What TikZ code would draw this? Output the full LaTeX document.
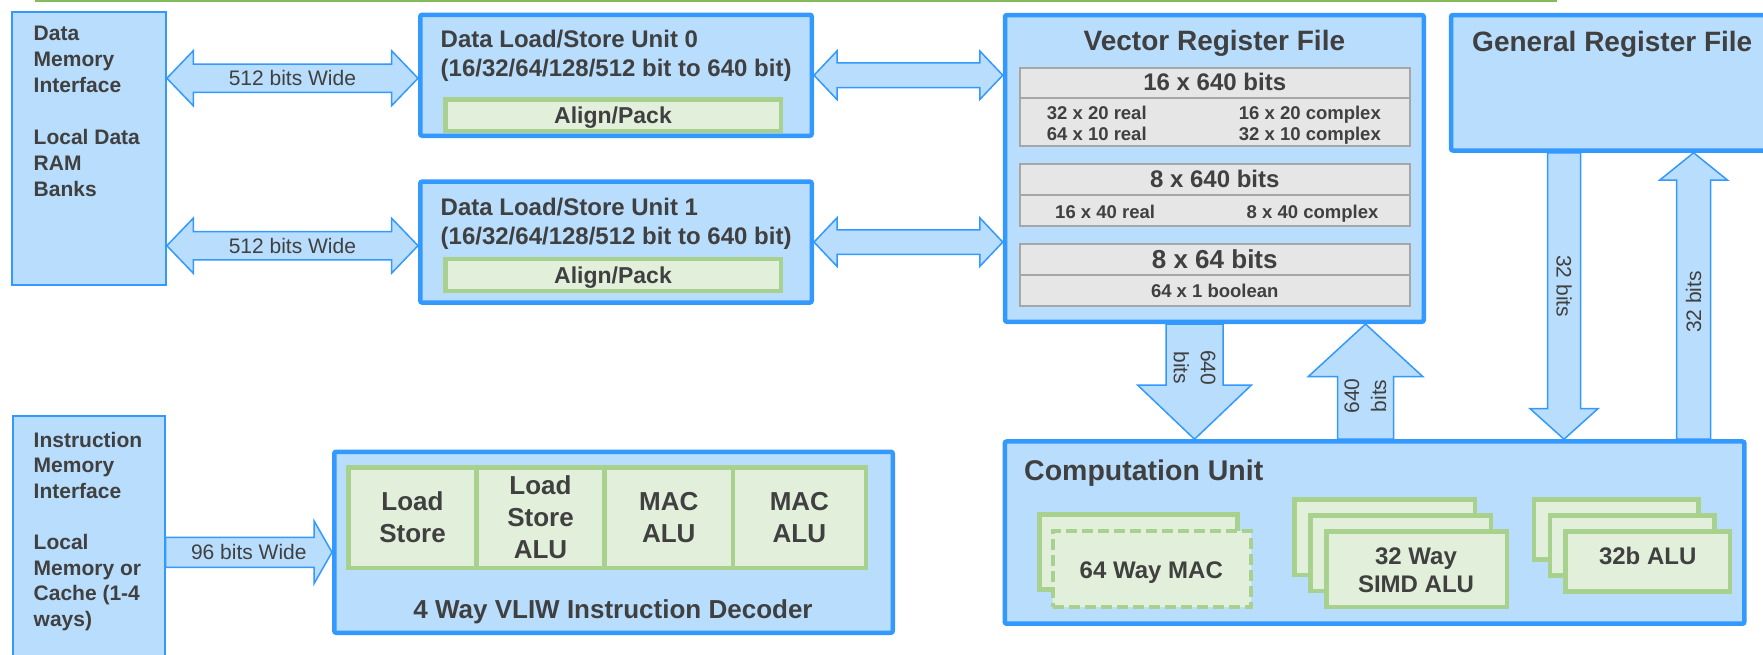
\documentclass[tikz,border=0pt]{standalone}
\usepackage{fontspec}
\setmainfont{Liberation Sans}
\usetikzlibrary{calc}
\definecolor{blueFill}{HTML}{B9DDFC}
\definecolor{blueLine}{HTML}{3399FF}
\definecolor{greenLine}{HTML}{A9D18E}
\definecolor{greenFill}{HTML}{E2EFDA}
\definecolor{grayFill}{HTML}{E6E6E6}
\definecolor{grayLine}{HTML}{A6A6A6}
\definecolor{textC}{HTML}{404040}
\definecolor{topGreen}{HTML}{84BC5B}
\newcommand{\myfs}[2]{\fontsize{#1}{#2}\selectfont}
\pgfdeclarelayer{backlayer}
\pgfdeclarelayer{arrowlayer}
\pgfsetlayers{backlayer,arrowlayer,main}
% double-headed horizontal block arrow: left, right, shaft half, head half, head length
\newcommand{\blkHH}[5]{%
  \filldraw[blk] (#1) -- ($(#1)+(#5,-#4)$) -- ($(#1)+(#5,-#3)$) -- ($(#2)+(-#5,-#3)$) -- ($(#2)+(-#5,-#4)$) -- (#2) -- ($(#2)+(-#5,#4)$) -- ($(#2)+(-#5,#3)$) -- ($(#1)+(#5,#3)$) -- ($(#1)+(#5,#4)$) -- cycle;}
% single right block arrow: tail, tip, shaft half, head half, head length
\newcommand{\blkR}[5]{%
  \filldraw[blk] ($(#1)+(0,-#3)$) -- ($(#2)+(-#5,-#3)$) -- ($(#2)+(-#5,-#4)$) -- (#2) -- ($(#2)+(-#5,#4)$) -- ($(#2)+(-#5,#3)$) -- ($(#1)+(0,#3)$) -- cycle;}
% vertical block arrow: tail, tip, shaft half, head half, head base offset from tip
\newcommand{\blkV}[5]{%
  \filldraw[blk] ($(#1)+(-#3,0)$) -- ($(#2)+(-#3,#5)$) -- ($(#2)+(-#4,#5)$) -- (#2) -- ($(#2)+(#4,#5)$) -- ($(#2)+(#3,#5)$) -- ($(#1)+(#3,0)$) -- cycle;}
\begin{document}
\begin{tikzpicture}[x=1pt,y=-1pt,
  thickbox/.style={draw=blueLine, line width=4.5pt, fill=blueFill, rounded corners=2pt, inner sep=0pt},
  thinbox/.style={draw=blueLine, line width=2pt, fill=blueFill, inner sep=0pt},
  greenbox/.style={draw=greenLine, line width=4.5pt, fill=greenFill, inner sep=0pt, text=textC},
  dashgreen/.style={greenbox, line width=4pt, dash pattern=on 11pt off 5pt},
  graybox/.style={draw=grayLine, line width=2pt, fill=grayFill, inner sep=0pt},
  blk/.style={draw=blueLine, line width=1.5pt, fill=blueFill, line join=miter},
  lbl/.style={text=textC, inner sep=0pt},
]
\path[use as bounding box] (0,0) rectangle (1763,654);
\begin{pgfonlayer}{backlayer}
  \fill[white] (0,0) rectangle (1763,654);
\end{pgfonlayer}
\fill[topGreen] (35,0) rectangle (1557,2.2);

% memory interface boxes
\node[thinbox, minimum width=153.5pt, minimum height=273pt] (dmem) at (89.1,148) {};
\node[lbl, anchor=north west, align=left, font={\myfs{21}{26}\bfseries}] (dmemtxt) at (33.5,25.6)
  {Data\\Memory\\Interface\\[26pt]Local Data\\RAM\\Banks};
\node[thinbox, minimum width=151.2pt, minimum height=264.25pt] (imem) at (88.95,547.9) {};
\node[lbl, anchor=north west, align=left, font={\myfs{21}{25.6}\bfseries}] (imemtxt) at (33.5,431.7)
  {Instruction\\Memory\\Interface\\[25.6pt]Local\\Memory or\\Cache (1-4\\ways)};

% load/store units
\node[thickbox, minimum width=391.5pt, minimum height=121pt] (lsu0) at (616,75.25) {};
\node[lbl, anchor=north west, align=left, font={\myfs{24}{29}\bfseries}] (lsu0t) at (440.5,29.8)
  {Data Load/Store Unit 0\\(16/32/64/128/512 bit to 640 bit)};
\node[greenbox, minimum width=335.5pt, minimum height=31.5pt, text depth=0pt, font={\myfs{23}{27}\bfseries}] (ap0) at (613,115.25) {Align/Pack};
\node[thickbox, minimum width=391.5pt, minimum height=121pt] (lsu1) at (616,242.1) {};
\node[lbl, anchor=north west, align=left, font={\myfs{24}{29}\bfseries}] (lsu1t) at (440.5,197.8)
  {Data Load/Store Unit 1\\(16/32/64/128/512 bit to 640 bit)};
\node[greenbox, minimum width=335.5pt, minimum height=32pt, text depth=0pt, font={\myfs{23}{27}\bfseries}] (ap1) at (613,275) {Align/Pack};

% vector register file
\node[thickbox, minimum width=418.75pt, minimum height=306.75pt] (vrf) at (1214.4,168.4) {};
\node[lbl, anchor=base, font={\myfs{28}{32}\bfseries}] (vrft) at (1214.4,50.7) {Vector Register File};
\node[graybox, minimum width=390.5pt, minimum height=78pt] (p1) at (1214.75,106.7) {};
\draw[grayLine, line width=2pt] ($(p1.north west)+(0,31)$) -- ($(p1.north east)+(0,31)$);
\node[graybox, minimum width=390.5pt, minimum height=62.6pt] (p2) at (1214.75,195) {};
\draw[grayLine, line width=2pt] (p2.west) -- (p2.east);
\node[graybox, minimum width=390.5pt, minimum height=62pt] (p3) at (1214.75,274.7) {};
\draw[grayLine, line width=2pt] ($(p3.north west)+(0,32.3)$) -- ($(p3.north east)+(0,32.3)$);
\node[lbl, anchor=base, font={\myfs{24}{28}\bfseries}] (p1t) at (1214.75,90.7) {16 x 640 bits};
\node[lbl, anchor=north west, align=left, font={\myfs{18.5}{21.7}\bfseries}] (p1a) at (1046.7,105.5) {32 x 20 real\\64 x 10 real};
\node[lbl, anchor=north west, align=left, font={\myfs{18.5}{21.7}\bfseries}] (p1b) at (1238.7,105.5) {16 x 20 complex\\32 x 10 complex};
\node[lbl, anchor=base, font={\myfs{24}{28}\bfseries}] (p2t) at (1214.75,187.7) {8 x 640 bits};
\node[lbl, anchor=base west, font={\myfs{18.5}{21.7}\bfseries}] (p2a) at (1055,218.3) {16 x 40 real};
\node[lbl, anchor=base west, font={\myfs{18.5}{21.7}\bfseries}] (p2b) at (1246.5,218.3) {8 x 40 complex};
\node[lbl, anchor=base, font={\myfs{26}{30}\bfseries}] (p3t) at (1214.75,268.3) {8 x 64 bits};
\node[lbl, anchor=base, font={\myfs{18.5}{21.7}\bfseries}] (p3a) at (1214.75,297.7) {64 x 1 boolean};

% general register file
\node[thickbox, minimum width=339pt, minimum height=135.5pt] (grf) at (1620.5,82.75) {};
\node[lbl, anchor=base west, font={\myfs{28}{32}\bfseries}] (grft) at (1472,51.7) {General Register File};

% computation unit
\node[thickbox, minimum width=739.6pt, minimum height=182.25pt] (cu) at (1374.55,532.6) {};
\node[lbl, anchor=base west, font={\myfs{28.5}{32}\bfseries}] (cut) at (1024,480) {Computation Unit};
\node[greenbox, minimum width=198pt, minimum height=75pt] (macb) at (1138.5,552) {};
\node[dashgreen, minimum width=198pt, minimum height=76pt] (macf) at (1151.7,568.8) {};
\node[lbl, anchor=base, font={\myfs{24}{28}\bfseries}] (mact) at (1151.3,578.3) {64 Way MAC};
\node[greenbox, minimum width=180.5pt, minimum height=75.5pt] (simda) at (1384.5,537.3) {};
\node[greenbox, minimum width=180.5pt, minimum height=75.5pt] (simdb) at (1400.5,553.3) {};
\node[greenbox, minimum width=180.5pt, minimum height=75.5pt] (simdc) at (1416.5,569.3) {};
\node[lbl, anchor=north, align=center, font={\myfs{24}{28.4}\bfseries}] (simdt) at (1416,547.5) {32 Way\\SIMD ALU};
\node[greenbox, minimum width=164.5pt, minimum height=60pt] (alua) at (1616.3,529.5) {};
\node[greenbox, minimum width=164.5pt, minimum height=60pt] (alub) at (1632.3,545.5) {};
\node[greenbox, minimum width=164.5pt, minimum height=60pt] (aluc) at (1647.8,561.5) {};
\node[lbl, anchor=base, font={\myfs{24}{28}\bfseries}] (alut) at (1647.7,564.3) {32b ALU};

% instruction decoder
\node[thickbox, minimum width=558.5pt, minimum height=181pt] (dec) at (613.5,542.25) {};
\node[greenbox, minimum width=128pt, minimum height=100.5pt, align=center, font={\myfs{26}{32}\bfseries}] (c1) at (412.5,517.5) {Load\\Store};
\node[greenbox, minimum width=128pt, minimum height=100.5pt, align=center, font={\myfs{26}{32}\bfseries}] (c2) at (540.5,517.5) {Load\\Store\\ALU};
\node[greenbox, minimum width=128.5pt, minimum height=100.5pt, align=center, font={\myfs{26}{32}\bfseries}] (c3) at (668.75,517.5) {MAC\\ALU};
\node[greenbox, minimum width=132.75pt, minimum height=100.5pt, align=center, font={\myfs{26}{32}\bfseries}] (c4) at (799.4,517.5) {MAC\\ALU};
\node[lbl, anchor=base, font={\myfs{26}{30}\bfseries}] (dect) at (613,618.6) {4 Way VLIW Instruction Decoder};

% connector end points
\coordinate (a1L) at ($(dmem.east |- lsu0.west)+(0,3)$);
\coordinate (a1R) at ($(lsu0.west)+(0,3)$);
\coordinate (a2L) at ($(dmem.east |- lsu1.west)+(0,3.6)$);
\coordinate (a2R) at ($(lsu1.west)+(0,3.6)$);
\coordinate (a3L) at (lsu0.east);
\coordinate (a3R) at (vrf.west |- lsu0.east);
\coordinate (a4L) at (lsu1.east);
\coordinate (a4R) at (vrf.west |- lsu1.east);
\coordinate (a5L) at ($(imem.east |- dec.west)+(0,10)$);
\coordinate (a5R) at ($(dec.west)+(0,10)$);
\coordinate (v1a) at ($(vrf.south)+(-19.9,0)$);
\coordinate (v1b) at (v1a |- cu.north);
\coordinate (v2a) at ($(vrf.south)+(151.1,0)$);
\coordinate (v2b) at (v2a |- cu.north);
\coordinate (v3a) at ($(grf.south west)+(115.25,0)$);
\coordinate (v3b) at (v3a |- cu.north);
\coordinate (v4a) at ($(grf.south west)+(244.85,0)$);
\coordinate (v4b) at (v4a |- cu.north);

\begin{pgfonlayer}{arrowlayer}
  \blkHH{a1L}{a1R}{14.2}{27.6}{26.5}
  \blkHH{a2L}{a2R}{14.2}{27.6}{26.5}
  \blkHH{a3L}{a3R}{12.3}{24.3}{23}
  \blkHH{a4L}{a4R}{12.3}{24.3}{23}
  \blkR{a5L}{a5R}{15}{31.5}{18}
  \blkV{v1a}{v1b}{28.5}{56.7}{-54}
  \blkV{v2b}{v2a}{28}{57.4}{52.7}
  \blkV{v3a}{v3b}{16.5}{34}{-30.6}
  \blkV{v4b}{v4a}{16.9}{33.8}{27.3}
\end{pgfonlayer}

% connector labels
\node[lbl, font={\myfs{21}{25}}] (l1) at ($(a1L)!0.5!(a1R)$) {512 bits Wide};
\node[lbl, font={\myfs{21}{25}}] (l2) at ($(a2L)!0.5!(a2R)$) {512 bits Wide};
\node[lbl, font={\myfs{21}{25}}] (l5) at ($(a5L)!0.5!(a5R)$) {96 bits Wide};
\node[lbl, rotate=-90, align=center, font={\myfs{21}{27}}] (l6) at ($(v1a)!0.38!(v1b)$) {640\\bits};
\node[lbl, rotate=90, align=center, font={\myfs{21}{27}}] (l7) at ($(v2b)!0.376!(v2a)$) {640\\bits};
\node[lbl, rotate=-90, font={\myfs{21}{25}}] (l8) at ($(v3a)!0.466!(v3b)$) {32 bits};
\node[lbl, rotate=90, font={\myfs{21}{25}}] (l9) at ($(v4b)!0.479!(v4a)$) {32 bits};
\end{tikzpicture}
\end{document}
